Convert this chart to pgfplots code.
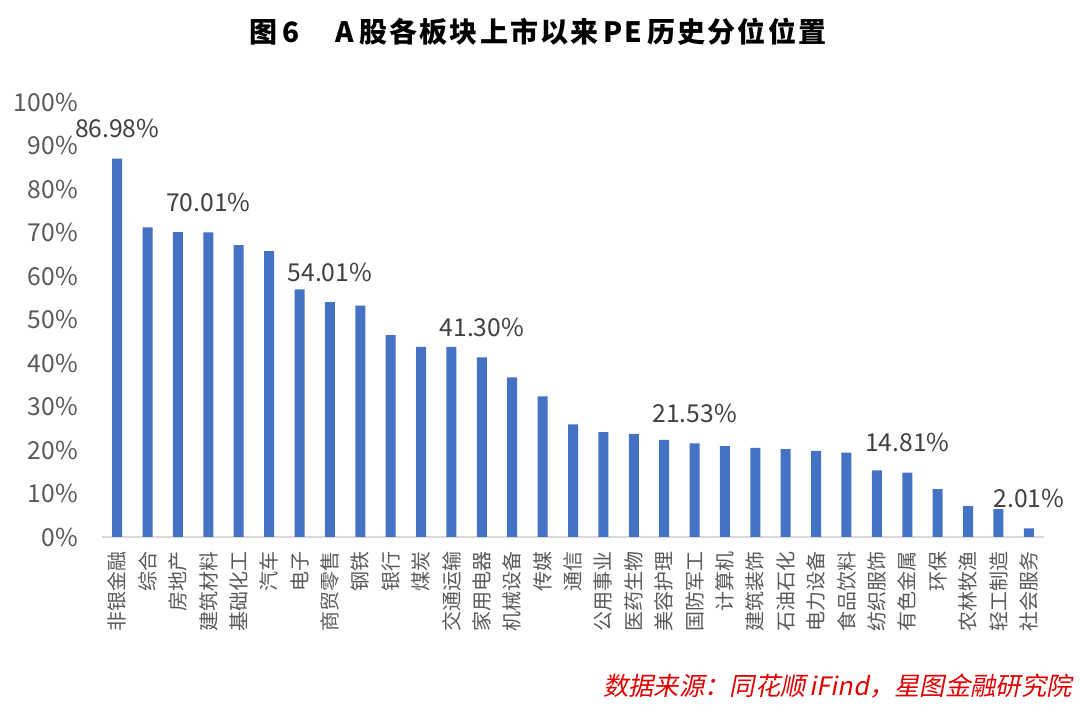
\documentclass[border=0pt]{standalone}
\usepackage{pgfplots}
\pgfplotsset{compat=1.18}
\usepackage{fontspec}
\setmainfont{Noto Sans CJK SC}
\newfontfamily\srcfont[FakeSlant=0.2]{Noto Sans CJK SC}
\newfontfamily\titlefont[LetterSpace=8]{Noto Sans CJK SC}
\definecolor{barblue}{HTML}{4472C4}
\definecolor{txtgray}{HTML}{595959}
\definecolor{lblgray}{HTML}{404040}
\definecolor{axgray}{HTML}{D9D9D9}
\definecolor{srcred}{HTML}{E00000}
\begin{document}
\begin{tikzpicture}[x=0.75pt,y=0.75pt]
\useasboundingbox (0,0) rectangle (1080,705);
\begin{axis}[
  at={(102*0.75pt,168*0.75pt)}, anchor=south west,
  scale only axis, width=706.5pt, height=326.25pt,
  ybar, bar width=7.5pt,
  xmin=-0.5, xmax=30.5, ymin=0, ymax=100,
  enlargelimits=false,
  axis x line*=bottom, axis y line*=left,
  y axis line style={draw=none},
  x axis line style={draw=axgray, line width=1pt, -},
  major tick length=0pt,
  xtick={0,...,30},
  xticklabels={非银金融,综合,房地产,建筑材料,基础化工,汽车,电子,商贸零售,钢铁,银行,煤炭,交通运输,家用电器,机械设备,传媒,通信,公用事业,医药生物,美容护理,国防军工,计算机,建筑装饰,石油石化,电力设备,食品饮料,纺织服饰,有色金属,环保,农林牧渔,轻工制造,社会服务},
  xticklabel style={yshift=-11pt, rotate=90, anchor=east, inner sep=0pt, font=\fontsize{15}{15}\selectfont, text=txtgray},
  ytick={0,10,...,100},
  yticklabels={0\%,10\%,20\%,30\%,40\%,50\%,60\%,70\%,80\%,90\%,100\%},
  yticklabel style={xshift=-18pt, anchor=east, inner sep=0pt, font=\fontsize{18.5}{18.5}\selectfont, text=txtgray},
  clip=false,
]
\addplot[fill=barblue, draw=none, bar shift=0pt] coordinates {
(0,86.98) (1,71.2) (2,70.1) (3,70.01) (4,67.1) (5,65.7) (6,56.9) (7,54.01)
(8,53.2) (9,46.4) (10,43.7) (11,43.7) (12,41.30) (13,36.7) (14,32.3) (15,25.9)
(16,24.1) (17,23.7) (18,22.3) (19,21.53) (20,20.9) (21,20.5) (22,20.2) (23,19.8)
(24,19.4) (25,15.3) (26,14.81) (27,11.0) (28,7.1) (29,6.4) (30,2.01)
};
\addplot[draw=none, fill=none, bar shift=0pt,
  point meta=explicit symbolic,
  nodes near coords,
  nodes near coords style={anchor=center, yshift=22.5pt, font=\fontsize{18.5}{18.5}\selectfont, text=lblgray}]
coordinates {
(0,86.98) [86.98\%]
(3,70.01) [70.01\%]
(7,54.01) [54.01\%]
(12,41.30) [41.30\%]
(19,21.53) [21.53\%]
(26,14.81) [14.81\%]
(30,2.01) [2.01\%]
};
\end{axis}
\node[anchor=center, font=\titlefont\fontsize{21}{21}\selectfont\bfseries] at (538,673) {图\,6\quad\ A\,股各板块上市以来\,PE\,历史分位位置};
\node[anchor=east, inner sep=0pt, text=srcred, font=\fontsize{19}{19}\selectfont\srcfont] at (1072,19) {数据来源：同花顺\,iFind，星图金融研究院};
\end{tikzpicture}
\end{document}
